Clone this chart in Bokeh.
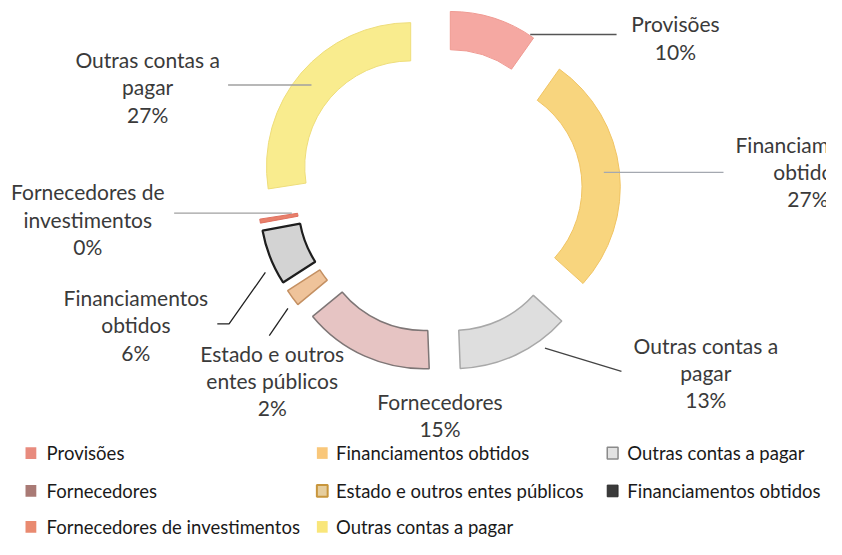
import math
from bokeh.plotting import figure
from bokeh.models import Range1d, ColumnDataSource
from bokeh.core.properties import value
from bokeh.embed import file_html
from bokeh.resources import INLINE

# ---------------- data ----------------
categories = ["Provisões", "Financiamentos obtidos", "Outras contas a pagar",
              "Fornecedores", "Estado e outros entes públicos",
              "Financiamentos obtidos", "Fornecedores de investimentos",
              "Outras contas a pagar"]
values = [9.8, 26.9, 12.7, 14.6, 1.9, 6.2, 0.45, 27.45]
pct_labels = ["10%", "27%", "13%", "15%", "2%", "6%", "0%", "27%"]

# ---------------- styles ----------------
fills = ["#F5A8A2", "#F8D57E", "#DEDEDE", "#E6C4C3", "#EFC39A", "#D3D3D3", "#E8806A", "#F9EC8E"]
borders = ["#EF9A92", "#F0C464", "#A8A8A8", "#7E7676", "#C49062", "#1E1E1E", "#E07060", "#EEDD7A"]
border_w = [1, 1, 1.5, 1.5, 1.5, 2.2, 1, 1]
swatch_fill = ["#E88B7E", "#F9C77A", "#E2E2E2", "#A97A75", "#E6CE9E", "#3A3A3A", "#E98A70", "#F9E67A"]
swatch_line = ["#E88B7E", "#F9C77A", "#8A8A8A", "#A97A75", "#C8963C", "#2A2A2A", "#E98A70", "#F9E67A"]
swatch_lw = [0, 0, 1.5, 0, 2, 1, 0, 0]

REF_W, REF_H = 842, 555
def Y(y):
    return REF_H - y

# donut geometry (reference pixel space)
CX, CY = 447, 196
R_OUT, R_IN, EXPLODE = 147, 108, 38

# label layout: (center x, first-line y) and leader polylines
label_pos = [(688, 24), (823, 148), (719, 355), (448, 413),
             (277, 363), (138, 306), (89, 197), (150, 61)]
LINE_H = 28
leaders = [
    ([540, 628], [35, 35], "#555555"),
    ([615, 737], [177, 177], "#A4A8B0"),
    ([555, 633], [358, 382], "#444444"),
    None,
    ([293, 274], [317, 345], "#222222"),
    ([270, 233, 221], [280, 333, 333], "#222222"),
    ([177, 297], [219, 219], "#A0A0A0"),
    ([232, 317], [87, 87], "#A0A0A0"),
]
legend_cols_x = [25, 322, 618]
legend_text_x = [47, 342, 639]
legend_rows_y = [466, 505, 542]


def wrap(s, width=15):
    words, lines, cur = s.split(" "), [], ""
    for w in words:
        t = (cur + " " + w).strip()
        if len(t) <= width or not cur:
            cur = t
        else:
            lines.append(cur)
            cur = w
    lines.append(cur)
    return lines


p = figure(width=826, height=539, x_range=Range1d(0, REF_W), y_range=Range1d(0, REF_H),
           toolbar_location=None, output_backend="svg", min_border=0,
           background_fill_color="white", border_fill_color="white")
p.outline_line_color = None
p.axis.visible = False
p.grid.visible = False

# ---------------- wedges ----------------
total = sum(values)
cum = 0.0
xs, ys, sa, ea = [], [], [], []
for v in values:
    t0 = 360.0 * cum / total
    cum += v
    t1 = 360.0 * cum / total
    bis = math.radians((t0 + t1) / 2)
    xs.append(CX + EXPLODE * math.sin(bis))
    ys.append(Y(CY) + EXPLODE * math.cos(bis))
    sa.append(math.radians(90 - t0))
    ea.append(math.radians(90 - t1))

src = ColumnDataSource(dict(x=xs, y=ys, sa=sa, ea=ea, fill=fills, line=borders, lw=border_w,
                            cat=categories, val=values))
p.annular_wedge(x="x", y="y", inner_radius=R_IN, outer_radius=R_OUT,
                start_angle="sa", end_angle="ea", direction="clock",
                fill_color="fill", line_color="line", line_width="lw", source=src)

# ---------------- leader lines ----------------
for ld in leaders:
    if ld is None:
        continue
    lx, ly, col = ld
    p.line(lx, [Y(v) for v in ly], line_color=col, line_width=1.3)

# ---------------- data labels ----------------
tx, ty, tt = [], [], []
for i, cat in enumerate(categories):
    lines = wrap(cat) + [pct_labels[i]]
    x0, y0 = label_pos[i]
    for k, ln in enumerate(lines):
        tx.append(x0)
        ty.append(Y(y0 + k * LINE_H))
        tt.append(ln)
p.text(x=tx, y=ty, text=tt, text_align="center", text_baseline="middle",
       text_font=value("Lato"), text_font_size="21px", text_color="#3A3A3A")

# ---------------- legend ----------------
lgx, lgy, lgt, sx, sy = [], [], [], [], []
for i, cat in enumerate(categories):
    r, c = divmod(i, 3)
    sx.append(legend_cols_x[c] + 6)
    sy.append(Y(legend_rows_y[r]))
    lgx.append(legend_text_x[c])
    lgy.append(Y(legend_rows_y[r]))
    lgt.append(cat)
p.rect(x=sx, y=sy, width=11, height=12, fill_color=swatch_fill, line_color=swatch_line,
       line_width=swatch_lw)
p.text(x=lgx, y=lgy, text=lgt, text_align="left", text_baseline="middle",
       text_font=value("Lato"), text_font_size="18.5px", text_color="#1A1A1A")

open("out.html", "w").write(file_html(p, INLINE))
